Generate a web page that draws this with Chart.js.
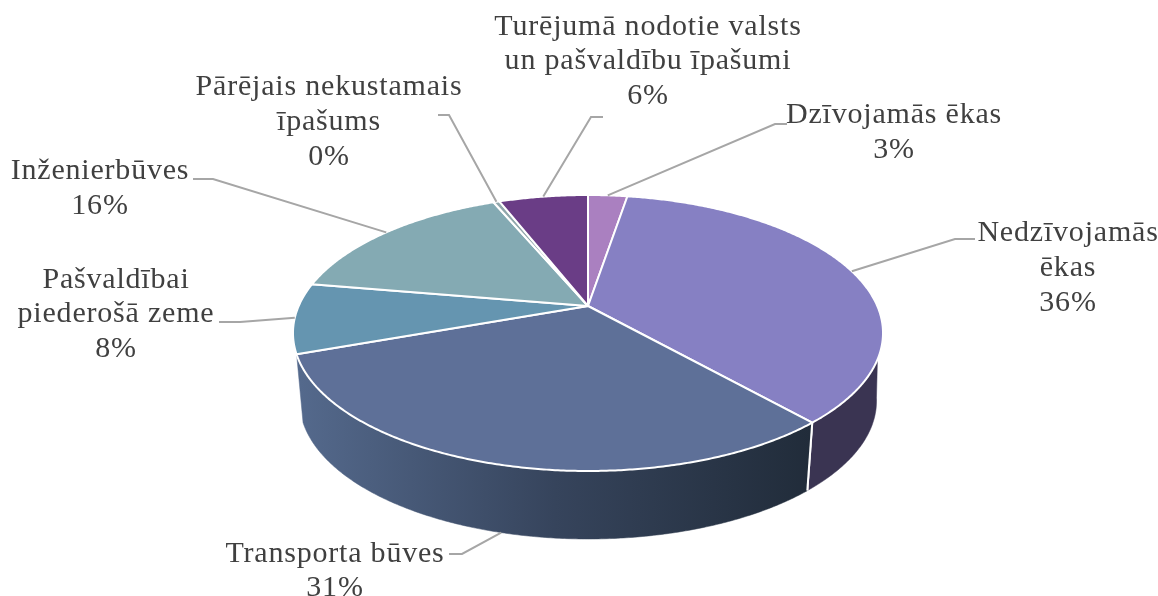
<!DOCTYPE html>
<html><head><meta charset="utf-8">
<style>html,body{margin:0;padding:0;background:#fff}canvas{display:block}</style>
<script src="https://cdn.jsdelivr.net/npm/chart.js@4"></script>
</head><body><canvas id="c" width="1158" height="596"></canvas>
<script>
const categories = ["Dzīvojamās ēkas","Nedzīvojamās ēkas","Transporta būves","Pašvaldībai piederošā zeme","Inženierbūves","Pārējais nekustamais īpašums","Turējumā nodotie valsts un pašvaldību īpašumi"];
const shares = [2.6,35.9,31.0,8.2,16.0,0.4,5.9];
const labelLines = [["Dzīvojamās ēkas"],["Nedzīvojamās","ēkas"],["Transporta būves"],["Pašvaldībai","piederošā zeme"],["Inženierbūves"],["Pārējais nekustamais","īpašums"],["Turējumā nodotie valsts","un pašvaldību īpašumi"]];
const topColors = ["#aa80c0","#8680c3","#5e7098","#6595b0","#84aab3","#8fa6ab","#6a3d86"];
const wallColors = ["#55406a","#3a3452",null,"#4d7088","#5f7f86","#6a7d80","#4a2b5e"];

// label layout: centre x, first-line y, line step; leader elbow: text end, bend
const FONT = '30px "Liberation Serif"';
const labelLayout = [
 {x:894,y:115,step:35,end:[787,124],bend:[775,124]},
 {x:1068,y:233,step:35,end:[975,239],bend:[955,239]},
 {x:335,y:554,step:34,end:[449,554],bend:[462,554],lower:true},
 {x:116,y:280,step:34.5,end:[219,322],bend:[240,322]},
 {x:100,y:171,step:35,end:[193,179],bend:[213,179]},
 {x:329,y:87,step:35,end:[438,115],bend:[449,115]},
 {x:648,y:27,step:34.5,end:[603,117],bend:[591,117]}
];
// 3D look: perspective of the pie disc
const K=-0.1957, SX=0.9976, SY=0.4576, WALL=68, LOW=0.978, DEG=Math.PI/180, WALL_FROM=112*DEG, WALL_LOW_FROM=100*DEG, WALL_TO=250*DEG;
function rim(arc,a){ // a: chart angle (0 at +x, clockwise)
  const R=arc.outerRadius, x=Math.cos(a), y=Math.sin(a), d=1+K*y;
  return [arc.x+R*SX*x/d, arc.y+R*SY*y/d];
}
function lowRim(arc,a){const p=rim(arc,a);return [arc.x+(p[0]-arc.x)*LOW,p[1]+WALL];}
function samples(a0,a1){const n=Math.max(2,Math.ceil(Math.abs(a1-a0)/0.008));const o=[];for(let i=0;i<=n;i++)o.push(a0+(a1-a0)*i/n);return o;}

Chart.ArcElement.prototype.draw=function(ctx){
  ctx.save();
  ctx.beginPath();ctx.moveTo(this.x,this.y);
  samples(this.startAngle,this.endAngle).forEach(a=>{const p=rim(this,a);ctx.lineTo(p[0],p[1]);});
  ctx.closePath();
  ctx.fillStyle=this.options.backgroundColor;ctx.fill();
  ctx.strokeStyle='#fff';ctx.lineWidth=2;ctx.lineJoin='round';ctx.stroke();
  ctx.restore();
};

const pie3d={id:'pie3d',
 beforeDatasetsDraw(chart){
  const ctx=chart.ctx, arcs=chart.getDatasetMeta(0).data;
  const base=-Math.PI/2, from=base+WALL_FROM, lowFrom=base+WALL_LOW_FROM, to=base+WALL_TO;
  arcs.forEach((arc,i)=>{
    const a0=Math.max(arc.startAngle,from), a1=Math.min(arc.endAngle,to);
    if(a1<=a0) return;
    const s=samples(a0,a1);
    const l=samples(a0===from?lowFrom:a0,a1);
    ctx.beginPath();
    s.forEach((a,j)=>{const p=rim(arc,a);j?ctx.lineTo(p[0],p[1]):ctx.moveTo(p[0],p[1]);});
    l.reverse().forEach(a=>{const p=lowRim(arc,a);ctx.lineTo(p[0],p[1]);});
    ctx.closePath();
    let fill=wallColors[i];
    if(!fill){fill=ctx.createLinearGradient(300,0,810,0);
      fill.addColorStop(0,'#54698c');fill.addColorStop(0.5,'#36445c');fill.addColorStop(1,'#212c3a');}
    ctx.fillStyle=fill;ctx.fill();
    ctx.strokeStyle=fill;ctx.lineWidth=0.5;ctx.stroke();
    // radial white edges of the wall
    ctx.strokeStyle='#fff';ctx.lineWidth=2;
    [a0,a1].forEach(a=>{ if(a===arc.endAngle||a===arc.startAngle){const p=rim(arc,a),q=lowRim(arc,a);ctx.beginPath();ctx.moveTo(p[0],p[1]);ctx.lineTo(q[0],q[1]);ctx.stroke();}});
  });
 },
 afterDatasetsDraw(chart){
  const ctx=chart.ctx, arcs=chart.getDatasetMeta(0).data;
  ctx.save();
  arcs.forEach((arc,i)=>{
    const L=labelLayout[i], mid=(arc.startAngle+arc.endAngle)/2;
    const tip=L.lower?lowRim(arc,mid):rim(arc,mid);
    ctx.strokeStyle='#a6a6a6';ctx.lineWidth=2;ctx.lineJoin='miter';
    ctx.beginPath();ctx.moveTo(L.end[0],L.end[1]);ctx.lineTo(L.bend[0],L.bend[1]);ctx.lineTo(tip[0],tip[1]);ctx.stroke();
    ctx.fillStyle='#404040';ctx.font=FONT;ctx.letterSpacing='0.8px';ctx.textAlign='center';ctx.textBaseline='middle';
    const lines=labelLines[i].concat([Math.round(shares[i])+'%']);
    lines.forEach((t,j)=>ctx.fillText(t,L.x,L.y+j*L.step));
  });
  ctx.restore();
 }
};

new Chart(document.getElementById('c'),{
 type:'pie',
 data:{labels:categories,datasets:[{data:shares,backgroundColor:topColors,borderWidth:0,hoverOffset:0}]},
 options:{responsive:false,animation:false,devicePixelRatio:1,
  layout:{padding:{left:18,top:16,right:0,bottom:0}},
  plugins:{legend:{display:false},tooltip:{enabled:false}}},
 plugins:[pie3d]
});
</script></body></html>
